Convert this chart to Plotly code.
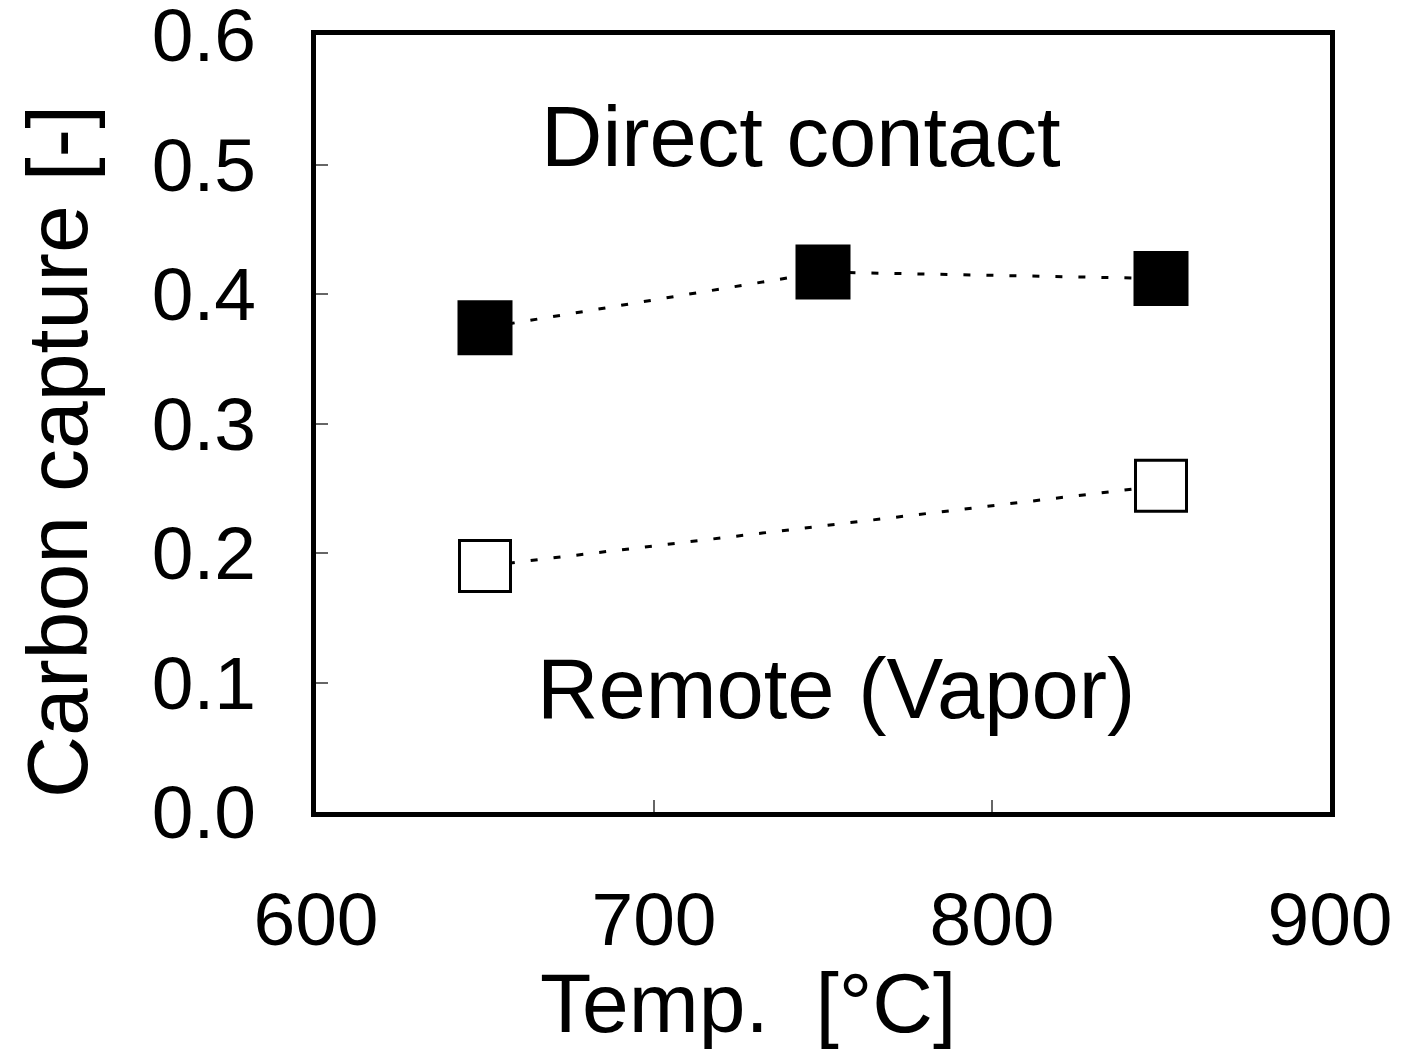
import plotly.graph_objects as go

temps_direct = [650, 750, 850]
capture_direct = [0.374, 0.417, 0.412]
temps_remote = [650, 850]
capture_remote = [0.190, 0.252]

x_ticks = [600, 700, 800, 900]
y_ticks = [0.0, 0.1, 0.2, 0.3, 0.4, 0.5, 0.6]
y_tick_labels = ["0.0", "0.1", "0.2", "0.3", "0.4", "0.5", "0.6"]

FONT = "Liberation Sans, Arial, sans-serif"
L, R, T, B = 316, 1330, 35, 812
W, H = R - L, B - T


def px(xp):
    return (xp - L) / W


def py(yp):
    return (B - yp) / H


fig = go.Figure()
fig.add_trace(go.Scatter(
    x=temps_direct, y=capture_direct, mode="lines+markers",
    line=dict(color="black", width=3, dash="7px,16px"),
    marker=dict(symbol="square", size=55, color="black", line=dict(width=0)),
    showlegend=False,
))
fig.add_trace(go.Scatter(
    x=temps_remote, y=capture_remote, mode="lines+markers",
    line=dict(color="black", width=3, dash="7px,16px"),
    marker=dict(symbol="square", size=51, color="white", line=dict(color="black", width=3)),
    showlegend=False,
))

fig.add_annotation(x=px(801), y=py(137), xref="paper", yref="paper", text="Direct contact",
                   xanchor="center", yanchor="middle", showarrow=False,
                   font=dict(family=FONT, size=85, color="black"))
fig.add_annotation(x=px(836), y=py(688), xref="paper", yref="paper", text="Remote (Vapor)",
                   xanchor="center", yanchor="middle", showarrow=False,
                   font=dict(family=FONT, size=85, color="black"))
# axis titles
fig.add_annotation(x=px(748), y=py(1003), xref="paper", yref="paper", text="Temp.  [°C]",
                   xanchor="center", yanchor="middle", showarrow=False,
                   font=dict(family=FONT, size=84, color="black"))
fig.add_annotation(x=px(57), y=py(452), xref="paper", yref="paper", text="Carbon capture [-]",
                   xanchor="center", yanchor="middle", showarrow=False, textangle=-90,
                   font=dict(family=FONT, size=86, color="black"))

fig.update_layout(
    width=1414, height=1051,
    margin=dict(l=L, r=1414 - R, t=T, b=1051 - B, autoexpand=False),
    paper_bgcolor="white", plot_bgcolor="white",
    font=dict(family=FONT, color="black"),
)
fig.update_xaxes(
    range=[600, 900], tickvals=x_ticks, ticktext=[str(v) for v in x_ticks],
    showgrid=False, zeroline=False,
    showline=True, linecolor="black", linewidth=5, mirror=True,
    ticks="inside", ticklen=12, tickwidth=2, tickcolor="#666",
    tickfont=dict(family=FONT, size=75, color="black"),
    ticklabelstandoff=38, ticklabeloverflow="allow",
    automargin=False,
)
fig.update_yaxes(
    range=[0, 0.6001], tickvals=y_ticks, ticktext=y_tick_labels,
    showgrid=False, zeroline=False,
    showline=True, linecolor="black", linewidth=5, mirror=True,
    ticks="inside", ticklen=12, tickwidth=2, tickcolor="#666",
    tickfont=dict(family=FONT, size=75, color="black"),
    ticklabelstandoff=40, ticklabeloverflow="allow",
    automargin=False,
)

fig.write_html("out.html")
